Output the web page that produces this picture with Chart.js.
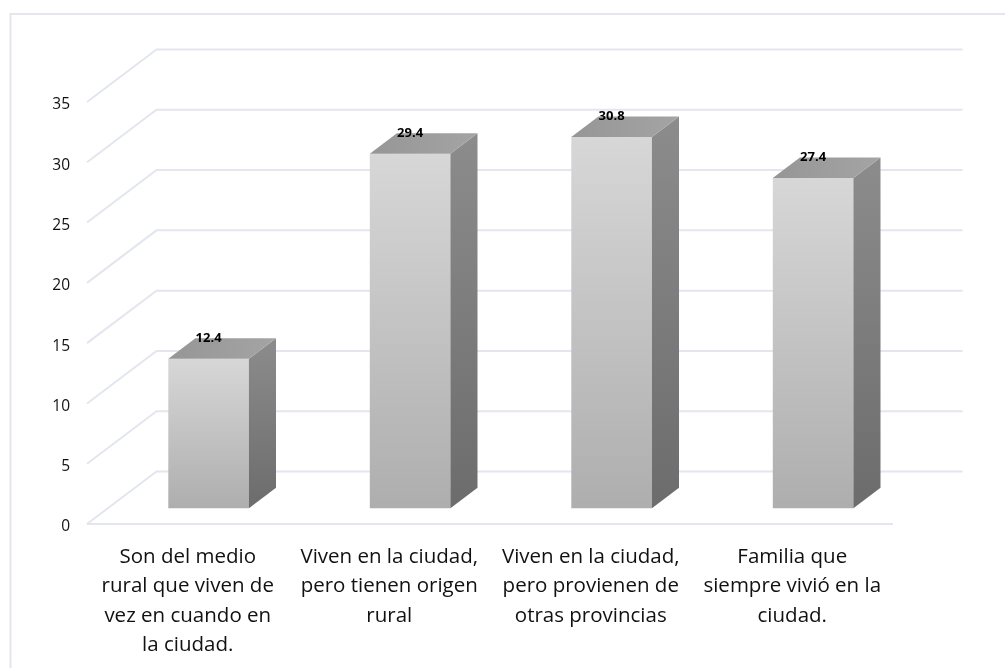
<!DOCTYPE html>
<html>
<head>
<meta charset="utf-8">
<style>
  html, body { margin: 0; padding: 0; background: #fff; }
  canvas { display: block; }
</style>
</head>
<body>
<canvas id="chart" width="1005" height="668"></canvas>
<script src="https://cdn.jsdelivr.net/npm/chart.js@4"></script>
<script>
const categories = [
  ["Son del medio", "rural que viven de", "vez en cuando en", "la ciudad."],
  ["Viven en la ciudad,", "pero tienen origen", "rural"],
  ["Viven en la ciudad,", "pero provienen de", "otras provincias"],
  ["Familia que", "siempre vivió en la", "ciudad."],
];
const values = [12.4, 29.4, 30.8, 27.4];
const valueLabels = ["12.4", "29.4", "30.8", "27.4"];

const GRID = "#e3e6ee";
// floor depth of the fake 3d box, and how far into it the bars stand
const WALL_DX = 69.5;
const WALL_DY = -52.5;
const BAR_OFFSET = 0.3;
const BAR_DEPTH = 0.39;

// frame, oblique floor lines and the back wall
const wallPlugin = {
  id: "wall",
  beforeDatasetsDraw(chart) {
    const { ctx, chartArea, scales } = chart;
    const { left, right } = chartArea;
    ctx.save();
    ctx.strokeStyle = GRID;
    ctx.lineWidth = 2;
    ctx.beginPath();
    ctx.moveTo(10.5, 668);
    ctx.lineTo(10.5, 14);
    ctx.lineTo(1005, 14);
    ctx.stroke();

    scales.y.ticks.forEach((tick) => {
      const y = scales.y.getPixelForValue(tick.value);
      ctx.beginPath();
      ctx.moveTo(left, y);
      ctx.lineTo(left + WALL_DX, y + WALL_DY);
      ctx.lineTo(right + WALL_DX, y + WALL_DY);
      ctx.stroke();
    });
    const y0 = scales.y.getPixelForValue(0);
    ctx.beginPath();
    ctx.moveTo(left, y0);
    ctx.lineTo(right, y0);
    ctx.stroke();
    ctx.restore();
  },
};

// native bars are transparent, the boxes get painted from their elements
const boxPlugin = {
  id: "box",
  afterDatasetsDraw(chart) {
    const { ctx } = chart;
    const meta = chart.getDatasetMeta(0);
    const shiftX = WALL_DX * BAR_OFFSET;
    const shiftY = WALL_DY * BAR_OFFSET;
    const dx = WALL_DX * BAR_DEPTH;
    const dy = WALL_DY * BAR_DEPTH;

    meta.data.forEach((bar, i) => {
      const x1 = bar.x - bar.width / 2 + shiftX;
      const x2 = bar.x + bar.width / 2 + shiftX;
      const top = bar.y + shiftY;
      const bottom = bar.base + shiftY;

      let g = ctx.createLinearGradient(0, top, 0, bottom);
      g.addColorStop(0, "#d7d7d7");
      g.addColorStop(1, "#aeaeae");
      ctx.fillStyle = g;
      ctx.fillRect(x1, top, x2 - x1, bottom - top);

      g = ctx.createLinearGradient(0, top + dy, 0, bottom);
      g.addColorStop(0, "#8c8c8c");
      g.addColorStop(1, "#6c6c6c");
      ctx.fillStyle = g;
      ctx.beginPath();
      ctx.moveTo(x2, top);
      ctx.lineTo(x2 + dx, top + dy);
      ctx.lineTo(x2 + dx, bottom + dy);
      ctx.lineTo(x2, bottom);
      ctx.closePath();
      ctx.fill();

      g = ctx.createLinearGradient(x1, 0, x2 + dx, 0);
      g.addColorStop(0, "#969696");
      g.addColorStop(1, "#a4a4a4");
      ctx.fillStyle = g;
      ctx.beginPath();
      ctx.moveTo(x1, top);
      ctx.lineTo(x1 + dx, top + dy);
      ctx.lineTo(x2 + dx, top + dy);
      ctx.lineTo(x2, top);
      ctx.closePath();
      ctx.fill();

      ctx.fillStyle = "#000";
      ctx.font = "bold 13px 'Open Sans'";
      ctx.textAlign = "center";
      ctx.textBaseline = "middle";
      ctx.fillText(valueLabels[i], (x1 + x2) / 2, top + dy);
    });
  },
};

new Chart(document.getElementById("chart"), {
  type: "bar",
  data: {
    labels: categories,
    datasets: [
      {
        data: values,
        backgroundColor: "transparent",
        categoryPercentage: 0.4,
        barPercentage: 1,
      },
    ],
  },
  options: {
    responsive: false,
    animation: false,
    layout: { padding: { top: 102, right: 112, bottom: 0, left: 0 } },
    plugins: { legend: { display: false }, tooltip: { enabled: false } },
    scales: {
      x: {
        afterFit(scale) {
          scale.height = 144;
        },
        grid: { display: false },
        border: { display: false },
        ticks: {
          color: "#111",
          font: { family: "'Open Sans'", size: 20.5, lineHeight: 1.44 },
          maxRotation: 0,
          autoSkip: false,
          padding: 10,
        },
      },
      y: {
        min: 0,
        max: 35,
        afterFit(scale) {
          scale.width = 87;
        },
        grid: { display: false },
        border: { display: false },
        ticks: {
          stepSize: 5,
          color: "#111",
          font: { family: "'Open Sans'", size: 15.5 },
          padding: 9,
          labelOffset: 3,
        },
      },
    },
  },
  plugins: [wallPlugin, boxPlugin],
});
</script>
</body>
</html>
